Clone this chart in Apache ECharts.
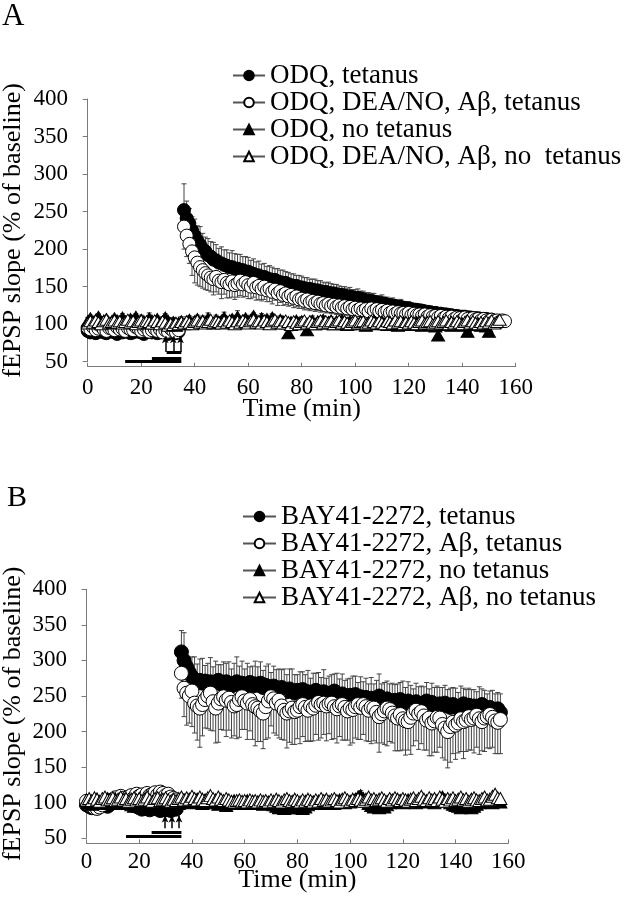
<!DOCTYPE html>
<html><head><meta charset="utf-8">
<script src="https://cdn.jsdelivr.net/npm/echarts@6/dist/echarts.min.js"></script>
<style>html,body{margin:0;padding:0;background:#fff}#c{width:629px;height:900px}</style>
</head><body><div id="c"></div><script>
// ---------- axis settings ----------
const yRange = [50, 400], yStep = 50;
const xRange = [0, 160], xStep = 20;

// ---------- names ----------
const namesA = ['ODQ, tetanus', 'ODQ, DEA/NO, A\u03b2, tetanus', 'ODQ, no tetanus', 'ODQ, DEA/NO, A\u03b2, no  tetanus'];
const namesB = ['BAY41-2272, tetanus', 'BAY41-2272, A\u03b2, tetanus', 'BAY41-2272, no tetanus', 'BAY41-2272, A\u03b2, no tetanus'];

// ---------- Panel A data (one value per minute, starting at 0 min; null = no sample) ----------
const odqTet = [91,89,92,88,90,93,89,88,91,92, 89,87,90,89,92,90,88,89,93,90, 89,87,90,92,89,90,88,89,92,90, 87,89,91,88,90, null,
 252,241,234,225,218,211,206,200,197,192, 190,186,185,182,181,179,178,176,176,174, 174,172,172,170,170,168,167,165,165,163,
 163,161,160,159,159,157,156,155,155,153, 152,151,151,149,149,148,147,147,146,145, 145,144,143,143,142,141,141,140,139,139,
 138,137,137,136,135,135,134,133,132,131, 131,130,129,128,128,127,126,125,125,124, 123,123,122,121,121,120,119,119,118,118,
 117,116,116,115,115,114,114,113,113,112, 112,111,111,110,110,110,109,109,108,108, 108,107,107,107,106,106];
const odqTetErr = [4,5,3,4,5,4,3,5,4,4, 5,3,4,4,5,4,3,4,5,4, 4,3,5,4,4,5,3,4,4,5, 4,3,4,5,4, null,
 35,23,20,18,22,20,24,21,19,22, 20,23,21,19,22,20,21,19,22,20, 19,21,18,20,19,17,20,18,19,17,
 18,16,18,17,15,17,16,17,15,16, 15,16,14,16,15,14,15,13,14,15, 13,14,13,12,14,13,12,13,12,11,
 12,11,12,10,11,12,10,11,10,11, 10,11,9,10,11,9,10,9,10,9, 9,10,8,9,9,8,9,8,9,8,
 8,9,8,7,8,8,7,8,7,8, 7,8,7,7,6,7,7,6,7,6, 6,7,6,6,5,6];

const odqDeaTet = [95,93,96,92,94,97,93,91,95,94, 92,96,93,94,91,95,93,92,96,94, 91,93,95,90,92,94,91,93,89,92, 90,94,91,89,92, null,
 230,218,207,197,189,182,176,172,168,165, 162,160,163,158,156,159,155,153,157,152, 154,158,153,156,152,150,155,149,151,147,
 150,145,147,143,146,141,144,139,141,137, 139,135,137,133,134,131,133,129,131,128, 130,127,128,125,127,124,126,123,125,122,
 124,121,123,120,122,119,121,118,120,117, 121,118,120,117,119,116,118,115,117,114, 116,114,115,113,115,112,114,112,113,111,
 113,110,112,110,111,109,111,108,110,108, 110,107,109,108,106,109,107,105,108,106, 107,105,107,105,104,106,104,105,103,105, 104];
const odqDeaTetErr = [5,4,6,5,4,5,6,4,5,5, 4,6,5,4,5,6,4,5,5,4, 6,5,4,5,6,4,5,4,6,5, 4,5,6,4,5, null,
 30,28,26,32,34,30,26,24,22,20, 19,21,20,18,22,19,20,18,21,19, 18,20,17,19,18,16,19,17,18,16,
 17,15,17,16,14,16,15,14,15,13, 14,13,14,12,13,12,13,11,12,11, 12,11,11,10,11,10,11,10,10,9,
 10,9,10,9,9,8,9,8,9,8, 8,9,8,8,7,8,7,8,7,7, 7,8,7,7,6,7,6,7,6,6,
 6,7,6,6,5,6,5,6,5,5, 5,6,5,5,5,4,5,5,4,5, 4,5,4,4,5,4,4,5,4,4, 4];

const odqNoTet = [104,108,103,106,110,102,105,107,101,104, 108,105,103,109,104,102,107,105,110,103,
 106,104,101,108,105,103,107,102,104,109, 105,101,103,98,102,104,100,103,106,101,
 104,107,102,105,103,108,104,101,106,103, 105,109,104,102,107,104,110,103,105,108,
 104,106,111,105,103,108,104,107,103,109, 105,102,106,104,101,88,103,100,105,102,
 104,101,92,103,105,100,104,102,106,101, 103,105,100,104,102,106,103,99,104,101,
 103,100,104,102,98,103,101,105,100,102, 104,101,99,103,100,102,98,101,103,100,
 102,99,101,103,100,98,102,100,101,99, 97,85,100,102,99,101,98,100,102,99,
 101,98,90,100,102,99,101,98,100,97, 90];
const odqNoTetErr = [5,4,6,5,4,7,5,4,6,5, 4,6,5,5,7,4,5,6,4,5, 6,5,4,7,5,6,4,5,6,5, 4,5,6,5,4,6,5,7,5,4,
 6,5,4,6,5,7,5,4,6,5, 5,7,4,6,5,4,8,5,6,4, 5,6,4,7,5,6,4,5,7,5, 6,4,5,6,4,9,5,6,4,5,
 6,5,8,4,6,5,4,7,5,6, 4,5,6,4,7,5,6,4,5,6, 5,4,6,5,7,4,6,5,4,6, 5,7,4,6,5,4,6,5,7,4,
 6,5,4,6,5,7,4,6,5,5, 6,9,5,4,6,5,4,6,5,4, 5,6,8,5,4,6,5,4,6,5, 8];

const odqDeaNoTet = [101,104,102,105,103,100,104,106,102,103, 105,102,104,101,103,106,102,104,100,103,
 105,102,104,103,101,105,103,100,104,102, 98,101,99,102,100,103,101,104,102,100,
 103,105,102,104,101,103,106,102,104,103, 101,104,102,105,103,100,104,102,105,103,
 101,104,106,102,104,101,105,103,100,104, 106,102,104,101,105,103,99,104,102,100,
 103,105,101,104,102,100,103,105,101,104, 102,104,100,103,105,101,104,102,100,103,
 105,101,103,104,100,102,105,103,101,104, 102,100,104,103,101,105,102,104,100,103,
 101,104,102,100,103,105,101,103,104,100, 102,104,101,103,105,100,103,101,104,102,
 100,103,105,101,104,102,100,103,101,104, 102,105,101,103,106];
const odqDeaNoTetErr = [4,5,4,6,5,4,5,6,4,5, 5,4,6,5,4,5,6,4,5,4, 6,5,4,5,6,4,5,4,6,5, 4,5,6,4,5,4,6,5,4,5,
 5,6,4,5,4,6,5,4,5,6, 4,5,6,4,5,4,5,6,4,5, 6,4,5,5,4,6,5,4,5,6, 4,5,6,5,4,5,8,4,5,6,
 5,4,6,5,4,5,6,4,5,4, 6,5,4,5,6,4,5,4,6,5, 4,5,6,4,5,4,6,5,4,5, 5,4,6,5,4,7,5,4,6,5,
 4,5,6,4,5,4,5,6,4,5, 6,4,5,7,4,6,5,4,5,6, 4,6,5,4,5,6,4,5,6,4, 5,4,6,5,5];

// ---------- Panel B data ----------
const bayTet = [97,95,93,96,98,100,99,97,95,98, 101,104,106,105,107,103,100,98,96,95, 93,91,92,94,90,92,93,91,89,92, 90,91,89,92,91, null,
 312,300,291,283,277,273,270,272,268,271, 268,270,266,269,272,267,265,270,268,264, 267,270,265,268,263,266,269,264,267,265,
 268,262,265,263,260,264,261,258,262,259, 256,260,257,254,258,255,259,253,256,252, 255,258,254,251,256,253,250,254,257,252,
 249,253,250,247,251,248,252,246,249,245, 248,244,247,243,246,250,245,242,246,243, 240,244,241,245,242,239,243,240,238,242,
 239,236,240,243,238,241,237,235,239,236, 240,237,234,238,235,232,236,239,234,237, 233,236,231,235,238,232,229,234,231,228, 232,227];
const bayTetErr = [5,4,6,5,4,5,6,4,5,5, 6,4,5,7,5,4,6,5,4,5, 6,5,4,6,5,4,5,6,4,5, 5,6,4,5,4, null,
 30,39,22,15,28,32,25,30,35,22, 28,34,25,30,22,27,33,26,30,24, 29,35,27,31,25,30,22,28,32,26,
 30,24,27,32,23,28,26,30,25,29, 24,28,31,26,22,29,25,27,30,23, 27,24,29,25,31,22,28,26,24,30,
 25,28,22,27,24,30,26,23,28,25, 27,23,29,24,26,31,22,27,25,24, 28,22,26,24,29,23,27,25,22,26,
 24,28,23,26,22,27,25,29,23,26, 25,22,27,24,26,23,28,22,25,24, 26,23,25,28,22,26,24,23,27,25, 23,26];

const bayAbTet = [102,98,95,93,92,94,97,100,103,101, 104,107,105,109,106,103,108,110,107,112, 109,111,108,113,110,112,114,111,115,113, 110,112,108,106,104, null,
 282,261,254,250,257,240,236,233,238,245, 250,254,242,233,240,246,249,244,247,241, 236,238,245,249,243,240,245,238,235,233,
 229,226,235,243,249,246,240,244,236,230, 226,229,233,228,230,235,238,234,230,236, 233,237,241,238,240,236,239,240,235,232,
 236,238,234,229,233,231,235,238,234,238, 235,230,234,233,227,221,225,229,233,231, 226,222,219,224,218,215,214,220,226,230,
 225,228,222,216,219,212,215,220,219,210, 205,200,207,213,209,212,218,214,216,221, 217,219,223,218,214,219,221,224,220,215, 213,217];
const bayAbTetErr = [6,5,7,5,6,8,5,6,7,5, 6,5,7,6,5,8,6,5,7,6, 5,6,8,5,6,7,5,6,5,7, 6,5,6,7,5, null,
 35,40,45,38,50,42,48,55,44,40, 46,52,41,49,55,43,47,51,45,50, 42,48,53,46,40,51,44,49,55,47,
 43,50,46,52,41,48,45,53,47,42, 49,44,51,46,40,52,45,48,43,50, 46,41,53,47,44,49,42,51,45,48,
 43,50,46,41,52,47,44,49,45,42, 48,44,51,46,43,50,41,47,53,45, 42,49,46,51,44,48,40,52,46,43,
 50,45,48,42,53,46,44,49,41,47, 45,51,50,44,48,42,46,52,44,47, 43,49,45,50,41,47,44,48,42,46, 44,48];

const bayNoTet = [103,100,98,102,105,101,99,104,106,100, 102,105,103,99,101,104,100,97,95,98,
 96,94,97,95,93,96,94,92,95,93, 94,92,95,93,96,99,102,104,101,103,
 100,103,105,101,99,104,102,100,103,101, 98,102,100,96,99,101,103,100,102,99,
 101,103,100,102,99,101,100,98,102,100, 99,97,95,93,94,92,95,93,94,96,
 93,95,92,94,97,99,101,100,102,99, 101,103,100,102,99,101,104,102,100,103,
 101,103,105,108,110,106,102,99,96,94, 95,93,96,94,97,100,102,104,101,103,
 100,102,104,101,103,100,102,105,103,101, 104,102,100,103,105,108,104,102,100,98,
 96,95,93,95,94,96,93,95,98,100, 102,104,101,103,100,102,104,101];
const bayNoTetErr = [4,5,3,5,4,6,4,5,3,4, 5,4,6,4,5,3,5,4,6,5, 4,5,3,6,4,5,4,3,5,4, 6,4,5,4,5,3,5,4,6,4,
 5,4,6,5,3,4,5,4,6,5, 4,3,5,4,6,5,4,5,3,4, 5,6,4,5,4,3,5,4,6,5, 4,5,6,4,5,7,4,5,6,4,
 5,4,6,3,5,4,5,6,4,5, 4,6,5,4,5,3,6,4,5,4, 5,4,6,5,7,4,5,6,4,5, 4,5,6,4,5,4,6,5,4,5,
 6,4,5,4,6,5,3,5,4,6, 5,4,6,5,4,5,6,4,5,4, 5,6,4,5,4,6,5,4,5,6, 4,5,6,4,5,4,6,5];

const bayAbNoTet = [104,106,103,107,105,102,106,108,104,105, 107,103,105,108,104,106,102,105,107,104,
 106,103,105,108,104,102,106,107,103,105, 107,104,102,105,103,106,108,104,107,105,
 109,106,104,108,105,103,107,110,106,104, 108,105,103,106,104,102,101,103,104,102,
 103,101,104,102,103,101,104,102,103,101, 104,102,105,103,101,104,106,103,102,105,
 103,101,104,102,105,103,101,104,102,106, 103,105,102,104,106,103,101,105,107,104,
 102,105,103,106,104,102,105,108,104,106, 103,105,107,104,102,106,104,107,105,103,
 106,104,102,105,107,103,106,109,105,103, 107,104,106,103,108,105,102,106,104,107,
 103,105,108,104,106,102,105,107,104,103, 106,108,104,105,109,112,107,106];
const bayAbNoTetErr = [5,4,6,5,4,5,6,4,5,4, 6,5,4,5,6,4,5,6,4,5, 4,5,6,4,5,4,6,5,4,5, 6,4,5,4,5,6,4,5,6,4,
 5,6,4,5,4,5,6,4,5,4, 6,5,4,5,4,6,5,4,5,6, 4,5,4,6,5,4,5,6,4,5, 5,4,6,5,4,5,4,6,5,4,
 5,6,4,5,6,4,5,4,6,5, 4,5,6,4,5,4,6,5,4,5, 6,4,5,4,6,5,4,5,6,4, 5,4,6,5,4,5,6,4,5,4,
 6,5,4,5,4,6,5,4,5,6, 4,5,6,4,5,4,6,5,4,5, 5,4,6,5,4,6,5,4,5,6, 4,5,6,5,4,7,5,6];

// ---------- treatment bars [start, end, level] and tetanus arrows (minutes) ----------
const barsA = [[14, 35, 50], [24, 35, 54], [29.5, 35, 62]];
const arrowsA = [29, 32, 34.7];
const arrowYA = [63, 84];
const barsB = [[15, 36, 53], [24.7, 36, 59]];
const arrowsB = [29.8, 32.4, 35.1];
const arrowYB = [64, 82];

// ---------- build ----------
const FONT = 'Liberation Serif';
const GRAY = '#7a7a7a';
const styles = [
  {sym: 'circle', fill: '#000', dir: 1},
  {sym: 'circle', fill: '#fff', dir: -1},
  {sym: 'triangle', fill: '#000', dir: 1},
  {sym: 'triangle', fill: '#fff', dir: -1}
];

function lineSeries(name, vals, st, gi, size) {
  return {
    type: 'line', name, xAxisIndex: gi, yAxisIndex: gi,
    data: vals.map((v, i) => [i, v == null ? '-' : v]),
    symbol: st.sym, symbolSize: size, showAllSymbol: true, connectNulls: false,
    lineStyle: {color: '#555', width: 1},
    itemStyle: {color: st.fill, borderColor: '#000', borderWidth: 1},
    emphasis: {disabled: true}, z: 3, animation: false
  };
}
function errSeries(vals, errs, dir, gi) {
  const d = [];
  vals.forEach((v, i) => { if (v != null && errs[i] != null) d.push([i, v, errs[i]]); });
  return {
    type: 'custom', xAxisIndex: gi, yAxisIndex: gi, silent: true, z: 2, animation: false,
    data: d, encode: {x: 0, y: 1},
    renderItem(params, api) {
      const x = api.value(0), y = api.value(1), e = api.value(2);
      const p0 = api.coord([x, y]), p1 = api.coord([x, y + dir * e]);
      return {type: 'group', children: [
        {type: 'line', shape: {x1: p0[0], y1: p0[1], x2: p1[0], y2: p1[1]}, style: {stroke: '#444', lineWidth: 1}},
        {type: 'line', shape: {x1: p1[0] - 2.5, y1: p1[1], x2: p1[0] + 2.5, y2: p1[1]}, style: {stroke: '#444', lineWidth: 1}}
      ]};
    }
  };
}
function markSeries(gi, bars, arrows, arrowY) {
  return [
    {type: 'line', xAxisIndex: gi, yAxisIndex: gi, data: [], silent: true, z: 4,
     markLine: {silent: true, animation: false, symbol: ['none', 'none'], label: {show: false},
       lineStyle: {color: '#000', width: 3, type: 'solid'},
       data: bars.map(b => [{coord: [b[0], b[2]]}, {coord: [b[1], b[2]]}])}},
    {type: 'line', xAxisIndex: gi, yAxisIndex: gi, data: [], silent: true, z: 4,
     markLine: {silent: true, animation: false, symbol: ['none', 'arrow'], symbolSize: [5, 7], label: {show: false},
       lineStyle: {color: '#000', width: 1.5, type: 'solid'},
       data: arrows.map(a => [{coord: [a, arrowY[0]]}, {coord: [a, arrowY[1]]}])}}
  ];
}

const seriesA = [odqTet, odqDeaTet, odqNoTet, odqDeaNoTet];
const errsA = [odqTetErr, odqDeaTetErr, odqNoTetErr, odqDeaNoTetErr];
const seriesB = [bayTet, bayAbTet, bayNoTet, bayAbNoTet];
const errsB = [bayTetErr, bayAbTetErr, bayNoTetErr, bayAbNoTetErr];

const series = [];
seriesA.forEach((v, k) => series.push(errSeries(v, errsA[k], styles[k].dir, 0)));
seriesB.forEach((v, k) => series.push(errSeries(v, errsB[k], styles[k].dir, 1)));
seriesA.forEach((v, k) => series.push(lineSeries(namesA[k], v, styles[k], 0, styles[k].sym === 'circle' ? 13 : [13, 11])));
seriesB.forEach((v, k) => series.push(lineSeries(namesB[k], v, styles[k], 1, styles[k].sym === 'circle' ? 14 : [13, 12])));
series.push(...markSeries(0, barsA, arrowsA, arrowYA));
series.push(...markSeries(1, barsB, arrowsB, arrowYB));

function xAx(gi, labelMargin, nameGap) {
  return {type: 'value', gridIndex: gi, min: xRange[0], max: xRange[1], interval: xStep, offset: 5,
    axisLine: {lineStyle: {color: GRAY, width: 1}},
    axisTick: {inside: true, length: 4, lineStyle: {color: GRAY}},
    splitLine: {show: false},
    axisLabel: {color: '#000', fontFamily: FONT, fontSize: 23, margin: labelMargin},
    name: 'Time (min)', nameLocation: 'middle', nameGap, nameMoveOverlap: false,
    nameTextStyle: {color: '#000', fontFamily: FONT, fontSize: 26}};
}
function yAx(gi, offset, nameGap) {
  return {type: 'value', gridIndex: gi, min: yRange[0], max: yRange[1], interval: yStep, offset,
    axisLine: {show: true, lineStyle: {color: GRAY, width: 1}},
    axisTick: {show: true, length: 5, lineStyle: {color: GRAY}},
    splitLine: {show: false},
    axisLabel: {color: '#000', fontFamily: FONT, fontSize: 23, margin: 8},
    name: 'fEPSP slope (% of baseline)', nameLocation: 'middle', nameGap, nameMoveOverlap: false,
    nameTextStyle: {color: '#000', fontFamily: FONT, fontSize: 26}};
}
function legendFor(names, left, top, iw, lh) {
  return {orient: 'vertical', left, top, padding: 0, itemWidth: iw, itemHeight: 12, itemGap: 0, data: names,
    selectedMode: false,
    textStyle: {color: '#000', fontFamily: FONT, fontSize: 27, lineHeight: lh}};
}

const option = {
  backgroundColor: '#fff',
  animation: false,
  title: [
    {text: 'A', left: 2, top: 1, padding: 0, textStyle: {fontFamily: FONT, fontSize: 31, fontWeight: 'normal', color: '#000'}},
    {text: 'B', left: 7, top: 483, padding: 0, textStyle: {fontFamily: FONT, fontSize: 30, fontWeight: 'normal', color: '#000'}}
  ],
  legend: [legendFor(namesA, 232, 62, 32, 26.3), legendFor(namesB, 242, 503, 33, 26.8)],
  grid: [
    {left: 87.7, top: 99, width: 428, height: 262.7, containLabel: false, outerBoundsMode: 'none'},
    {left: 86.5, top: 589.3, width: 421.8, height: 249, containLabel: false, outerBoundsMode: 'none'}
  ],
  xAxis: [xAx(0, 10, 29), xAx(1, 7, 24)],
  yAxis: [yAx(0, 11.7, 50), yAx(1, 11.5, 49)],
  series
};
const chart = echarts.init(document.getElementById('c'), null, {renderer: 'canvas'});
chart.setOption(option);
</script></body></html>
